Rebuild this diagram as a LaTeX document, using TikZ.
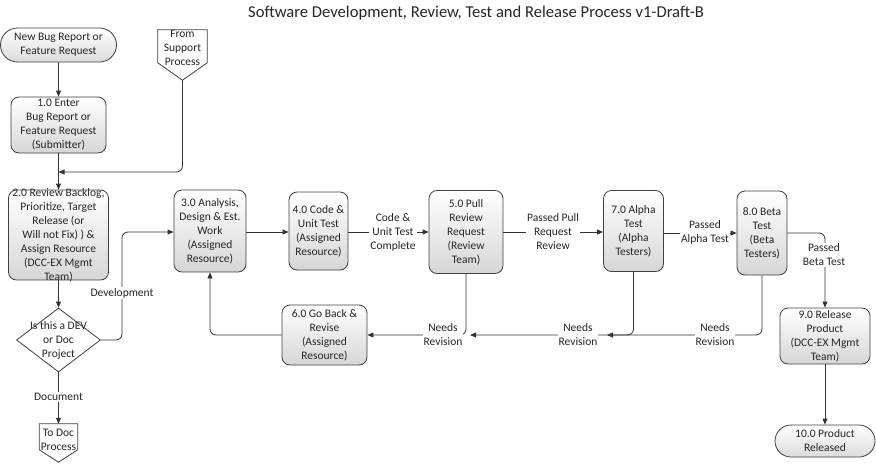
\documentclass[tikz,border=0pt]{standalone}
\usepackage{fontspec}
\setmainfont{Carlito}
\usetikzlibrary{arrows.meta,shapes.geometric,shapes.misc,calc}
\begin{document}
\begin{tikzpicture}[x=1pt,y=-1pt,
  every node/.append style={font=\fontsize{11.5}{14}\selectfont, text=black!85},
  proc/.style={draw=black!75, line width=0.8pt, rounded corners=8pt, top color=white, bottom color=black!16, align=center, inner sep=0pt},
  term/.style={draw=black!75, line width=0.8pt, rounded rectangle, top color=white, bottom color=black!14, align=center, inner sep=0pt},
  decis/.style={draw=black!75, line width=0.8pt, diamond, fill=white, inner sep=0pt},
  offp/.style={draw=black!75, line width=0.8pt, line join=miter},
  conn/.style={draw=black!80, line width=0.8pt, rounded corners=6pt},
  arr/.style={conn, -{Triangle[length=6pt,width=5pt]}},
  lab/.style={fill=white, inner sep=1pt, align=center},
  intext/.style={align=center}
]
\useasboundingbox (0,0) rectangle (876,469);

\node[font=\fontsize{16.6}{19}\selectfont] (title) at (476,13) {Software Development, Review, Test and Release Process v1-Draft-B};

% left column
\node[term, minimum width=116pt, minimum height=34pt] (start) at (58.5,45) {New Bug Report or\\Feature Request};
\node[proc, minimum width=95pt, minimum height=56pt] (b1) at (58.5,125) {1.0 Enter\\Bug Report or\\Feature Request\\(Submitter)};
\node[proc, minimum width=100pt, minimum height=90pt,
  label={[intext]center:{2.0 Review Backlog,\\Prioritize, Target\\Release (or\\Will not Fix) ) \&\\Assign Resource\\(DCC-EX Mgmt\\Team)}}] (b2) at (58.5,235) {};
\node[decis, minimum width=84pt, minimum height=64pt,
  label={[intext]center:{Is this a DEV\\or Doc\\Project}}] (dia) at (58.5,340) {};

% off-page connectors
\node[minimum width=49pt, minimum height=50pt, inner sep=0pt,
  label={[intext, yshift=7pt]center:{From\\Support\\Process}}] (sup) at (182.5,55) {};
\draw[offp] (sup.north west) -- (sup.north east) -- ([yshift=-33pt]sup.north east) -- (sup.south) -- ([yshift=-33pt]sup.north west) -- cycle;

\node[minimum width=38pt, minimum height=38pt, inner sep=0pt,
  label={[intext, yshift=3pt]center:{To Doc\\Process}}] (todoc) at (58.5,443) {};
\draw[offp] (todoc.north west) -- (todoc.north east) -- ([yshift=-26pt]todoc.north east) -- (todoc.south) -- ([yshift=-26pt]todoc.north west) -- cycle;

% main row
\node[proc, minimum width=72pt, minimum height=82pt] (b3) at (210,231) {3.0 Analysis,\\Design \& Est.\\Work\\(Assigned\\Resource)};
\node[proc, minimum width=59pt, minimum height=78pt] (b4) at (318.5,231) {4.0 Code \&\\Unit Test\\(Assigned\\Resource)};
\node[proc, minimum width=74pt, minimum height=83pt] (b5) at (466,232) {5.0 Pull\\Review\\Request\\(Review\\Team)};
\node[proc, minimum width=60pt, minimum height=81pt] (b7) at (633.5,231) {7.0 Alpha\\Test\\(Alpha\\Testers)};
\node[proc, minimum width=50pt, minimum height=84pt] (b8) at (762,233) {8.0 Beta\\Test\\(Beta\\Testers)};
\node[proc, minimum width=90pt, minimum height=56pt] (b9) at (825,336) {9.0 Release\\Product\\(DCC-EX Mgmt\\Team)};
\node[term, minimum width=100pt, minimum height=32pt] (end) at (825,441) {10.0 Product\\Released};
\node[proc, minimum width=85pt, minimum height=60pt] (b6) at (324.5,335) {6.0 Go Back \&\\Revise\\(Assigned\\Resource)};

% coordinates
\coordinate (j1) at (58.5,172);
\coordinate (r8) at (607,335);
\coordinate (r7) at (470,335);

% connectors
\draw[arr] (start) -- (b1);
\draw[arr] (sup.south) |- (j1);
\draw[arr] (b1.south) -- (b2.north);
\draw[arr] (b2) -- (dia);
\draw[arr] (dia.east) -- (122,340) -- (122,232) -- (b3.west |- 0,232);
\node[lab] (ldev) at (122,293) {Development};
\draw[arr] (dia.south) -- (todoc.north);
\node[lab] (ldoc) at (58.5,397) {Document};

\draw[arr] (b3.east |- 0,232) -- (b4.west |- 0,232);
\draw[arr] (b4.east |- 0,232) -- (b5.west |- 0,232);
\node[lab] (lcut) at (393,232) {Code \&\\Unit Test\\Complete};
\draw[arr] (b5.east |- 0,232) -- (b7.west |- 0,232);
\node[lab] (lppr) at (553,232) {Passed Pull\\Request\\Review};
\draw[arr] (b7.east |- 0,233) -- (b8.west |- 0,233);
\node[lab] (lpat) at (705,232) {Passed\\Alpha Test};
\draw[arr] (b8.east |- 0,233) -| (b9.north);
\node[lab] (lpbt) at (824,255) {Passed\\Beta Test};
\draw[arr] (b9) -- (end);

\draw[arr] (b8.south) |- (r8);
\node[lab] (lnr8) at (715,335) {Needs\\Revision};
\draw[arr] (b7.south) |- (r7);
\node[lab] (lnr7) at (578,335) {Needs\\Revision};
\draw[arr] (b5.south) |- (b6.east);
\node[lab] (lnr5) at (443,335) {Needs\\Revision};
\draw[arr] (b6.west) -| (b3.south);
\end{tikzpicture}
\end{document}
